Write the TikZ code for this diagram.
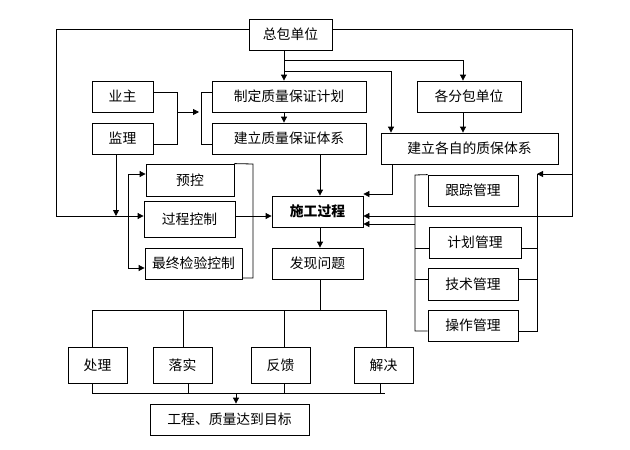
\documentclass[tikz,border=0pt]{standalone}
\usepackage{fontspec}
\setmainfont{Noto Sans CJK SC}
\usetikzlibrary{arrows.meta}
\begin{document}
\begin{tikzpicture}[x=1pt,y=-1pt,
  box/.style={draw,line width=0.8pt,inner sep=0pt,font=\fontsize{13.8}{16}\selectfont},
  ln/.style={line width=0.8pt},
  arr/.style={line width=0.8pt,-{Triangle[length=6pt,width=6pt]}}]
\useasboundingbox (0,0) rectangle (630,450);
% nodes
\node[box,minimum width=83pt,minimum height=31pt] (zb) at (290.5,34.5) {总包单位};
\node[box,minimum width=61pt,minimum height=31pt] (yz) at (122.5,96.5) {业主};
\node[box,minimum width=61pt,minimum height=31pt] (jl) at (122.5,138.5) {监理};
\node[box,minimum width=154pt,minimum height=31pt] (zd) at (289,96.5) {制定质量保证计划};
\node[box,minimum width=154pt,minimum height=31pt] (jt) at (289,138.5) {建立质量保证体系};
\node[box,minimum width=104pt,minimum height=31pt] (fb) at (469,96.5) {各分包单位};
\node[box,minimum width=177pt,minimum height=31pt] (gz) at (469.5,148.5) {建立各自的质保体系};
\node[box,minimum width=88pt,minimum height=32pt] (yk) at (190,180) {预控};
\node[box,minimum width=91pt,minimum height=36pt] (gc) at (189.5,219) {过程控制};
\node[box,minimum width=97pt,minimum height=31pt] (zj) at (193.5,263.5) {最终检验控制};
\node[box,minimum width=91pt,minimum height=31pt,font=\fontsize{13.8}{16}\selectfont\bfseries] (sg) at (317.5,211.5) {施工过程};
\node[box,minimum width=91pt,minimum height=31pt] (fx) at (317.5,263.5) {发现问题};
\node[box,minimum width=90pt,minimum height=31pt] (gzgl) at (473,190.5) {跟踪管理};
\node[box,minimum width=92pt,minimum height=31pt] (jh) at (475,242.5) {计划管理};
\node[box,minimum width=90pt,minimum height=32pt] (js) at (473,284) {技术管理};
\node[box,minimum width=90pt,minimum height=31pt] (cz) at (473,325.5) {操作管理};
\node[box,minimum width=59pt,minimum height=36pt] (cl) at (97.5,365) {处理};
\node[box,minimum width=59pt,minimum height=36pt] (ls) at (182.5,365) {落实};
\node[box,minimum width=59pt,minimum height=36pt] (fk) at (280.5,365) {反馈};
\node[box,minimum width=59pt,minimum height=36pt] (jj) at (383.5,365) {解决};
\node[box,minimum width=159pt,minimum height=31pt] (mb) at (229.5,419.5) {工程、质量达到目标};
% outer left line from 总包单位 to 过程控制
\draw[arr] (zb.west |- 0,29) -- (56,29) -- (56,216) -- (gc.west |- 0,216);
% outer right line from 总包单位
\draw[arr] (zb.east |- 0,29) -- (572,29) -- (572,216) -- (sg.east |- 0,216);
\draw[arr] (572,174) -- (537,174);
% 总包单位 down
\draw[arr] (zb.south -| 284,0) -- (zd.north -| 284,0);
\draw[arr] (284,60) -- (463,60) -- (fb.north -| 463,0);
\draw[arr] (284,71) -- (391,71) -- (gz.north -| 391,0);
% 业主 / 监理 bracket
\draw[ln] (yz.east |- 0,92) -- (177,92) -- (177,144) -- (jl.east |- 0,144);
\draw[arr] (177,112) -- (199,112);
\draw[ln] (zd.west |- 0,92) -- (201,92) -- (201,144) -- (jt.west |- 0,144);
\draw[arr] (zd.south -| 284,0) -- (jt.north -| 284,0);
\draw[arr] (jt.south -| 320,0) -- (sg.north -| 320,0);
\draw[arr] (fb.south -| 463,0) -- (gz.north -| 463,0);
\draw[arr] (gz.south -| 392,0) -- (392,194) -- (sg.east |- 0,194);
% 监理 down
\draw[arr] (jl.south -| 116,0) -- (116,216);
% control bracket
\draw[ln] (128,174) -- (128,268);
\draw[arr] (128,174) -- (yk.west |- 0,174);
\draw[arr] (128,268) -- (zj.west |- 0,268);
\draw[ln] (yk.north east) -- (253,164) -- (253,278) -- (zj.east |- 0,278);
\draw[arr] (gc.east |- 0,216) -- (sg.west |- 0,216);
\draw[arr] (sg.south -| 320,0) -- (fx.north -| 320,0);
% management brackets
\draw[ln] (gzgl.north west) -- (415,175) -- (415,331) -- (cz.west |- 0,331);
\draw[ln] (415,248) -- (jh.west |- 0,248);
\draw[ln] (415,279) -- (js.west |- 0,279);
\draw[arr] (415,224) -- (sg.east |- 0,224);
\draw[ln] (537,174) -- (537,331) -- (cz.east |- 0,331);
\draw[ln] (537,248) -- (jh.east |- 0,248);
\draw[ln] (537,279) -- (js.east |- 0,279);
% problem branches
\draw[ln] (fx.south -| 320,0) -- (320,310);
\draw[ln] (92,310) -- (386,310);
\draw[ln] (92,310) -- (cl.north -| 92,0);
\draw[ln] (183,310) -- (ls.north -| 183,0);
\draw[ln] (284,310) -- (fk.north -| 284,0);
\draw[ln] (386,310) -- (jj.north -| 386,0);
\draw[ln] (cl.south -| 92,0) -- (92,393);
\draw[ln] (ls.south -| 188,0) -- (188,393);
\draw[ln] (fk.south -| 284,0) -- (284,393);
\draw[ln] (jj.south -| 380,0) -- (380,393);
\draw[ln] (92,393) -- (385,393);
\draw[arr] (236,393) -- (mb.north -| 236,0);
\end{tikzpicture}
\end{document}
